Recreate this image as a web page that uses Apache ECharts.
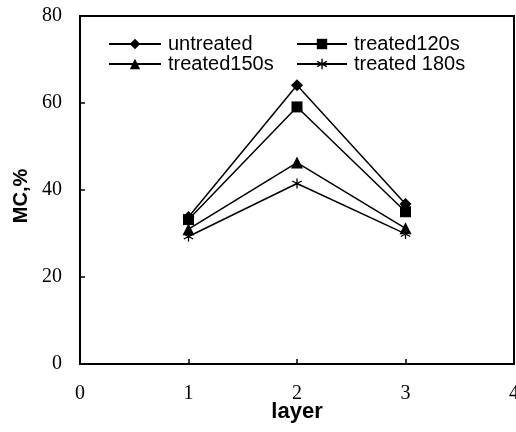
<!DOCTYPE html>
<html>
<head>
<meta charset="utf-8">
<script src="https://cdn.jsdelivr.net/npm/echarts@6/dist/echarts.min.js"></script>
<style>html,body{margin:0;padding:0;background:#fff;}#c{width:516px;height:432px;}</style>
</head>
<body>
<div id="c"></div>
<script>
const layers = [1, 2, 3];
const seriesNames = ['untreated', 'treated120s', 'treated150s', 'treated 180s'];
const untreated = [33.8, 64.1, 36.8];
const treated120s = [33.2, 59.1, 35.0];
const treated150s = [31.0, 46.3, 31.2];
const treated180s = [29.3, 41.5, 29.9];
const xTicks = [0, 1, 2, 3, 4];
const yTicks = [0, 20, 40, 60, 80];

const starPath = 'path://M1.2,-10L-1.2,-10L-1.2,10L1.2,10Z' +
  'M9.26,-3.96L8.06,-6.04L-9.26,3.96L-8.06,6.04Z' +
  'M8.06,6.04L9.26,3.96L-8.06,-6.04L-9.26,-3.96Z';

const symbols = ['diamond', 'rect', 'triangle', starPath];
const sizes = [12, 11, 12, 10];
const values = [untreated, treated120s, treated150s, treated180s];

const chart = echarts.init(document.getElementById('c'), null, {renderer: 'canvas'});
const legendBase = {
  orient: 'vertical',
  top: 34,
  padding: 0,
  itemGap: 0,
  itemHeight: 13,
  textStyle: {fontFamily: 'Liberation Sans', fontSize: 20, color: '#000', padding: [0, 0, 0, 2], lineHeight: 20},
  selectedMode: false
};
chart.setOption({
  animation: false,
  backgroundColor: '#fff',
  grid: {left: 80, right: 2, top: 16, bottom: 68, show: true, borderColor: '#000', borderWidth: 2,
         containLabel: false, outerBoundsMode: 'none'},
  legend: [
    Object.assign({}, legendBase, {left: 108, itemWidth: 52, data: [seriesNames[0], seriesNames[2]]}),
    Object.assign({}, legendBase, {left: 296, itemWidth: 50, data: [seriesNames[1], seriesNames[3]]})
  ],
  xAxis: {
    type: 'value', min: xTicks[0], max: xTicks[xTicks.length - 1], interval: 1,
    name: 'layer', nameLocation: 'middle', nameGap: 37, nameMoveOverlap: false,
    nameTextStyle: {fontFamily: 'Liberation Sans', fontWeight: 'bold', fontSize: 22, color: '#000', verticalAlign: 'top'},
    axisLine: {show: true, lineStyle: {color: '#000', width: 2}},
    axisTick: {show: true, inside: true, length: 5, lineStyle: {color: '#000', width: 1.5}},
    axisLabel: {margin: 20, fontFamily: 'Liberation Serif', fontSize: 20, color: '#000'},
    splitLine: {show: false}
  },
  yAxis: {
    type: 'value', min: yTicks[0], max: yTicks[yTicks.length - 1], interval: 20,
    name: 'MC,%', nameLocation: 'middle', nameGap: 48, nameRotate: 90,
    nameTextStyle: {fontFamily: 'Liberation Sans', fontWeight: 'bold', fontSize: 20, color: '#000', padding: [0, 12, 0, 0]},
    axisLine: {show: true, lineStyle: {color: '#000', width: 2}},
    axisTick: {show: true, inside: true, length: 5, lineStyle: {color: '#000', width: 1.5}},
    axisLabel: {margin: 18, fontFamily: 'Liberation Serif', fontSize: 20, color: '#000'},
    splitLine: {show: false}
  },
  series: seriesNames.map((name, i) => ({
    name: name,
    type: 'line',
    data: layers.map((x, j) => [x, values[i][j]]),
    symbol: symbols[i],
    symbolSize: sizes[i],
    showAllSymbol: true,
    lineStyle: {color: '#000', width: 1.5},
    itemStyle: {color: '#000'}
  }))
});
</script>
</body>
</html>
